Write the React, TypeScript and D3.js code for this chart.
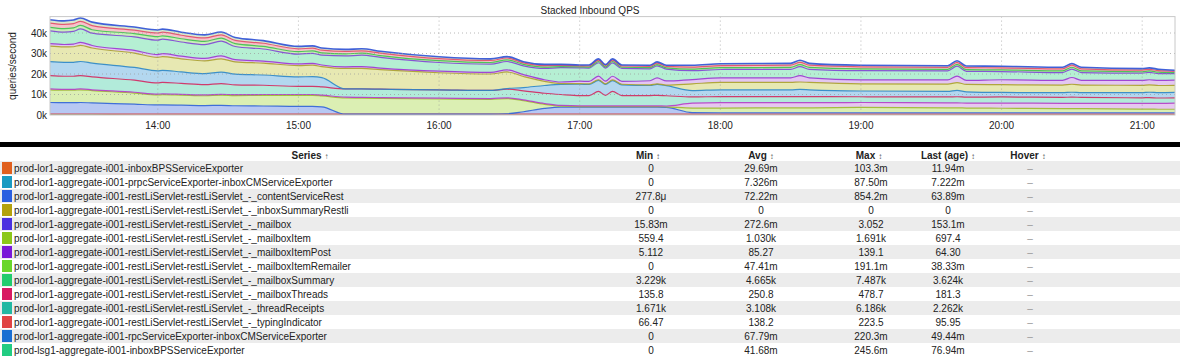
import React from "react";
import * as d3 from "d3";

// ---------- chart data (thousands of queries/second) ----------
const times = ["13:14","13:20","13:24","13:27","13:32","13:50","14:00","14:02","14:10","14:20","14:27","14:33","14:45","15:00","15:06","15:10","15:20","15:27","15:35","16:00","16:22","16:29","16:36","16:45","16:52","17:00","17:04","17:08","17:11","17:14","17:18","17:30","17:33","17:37","17:48","18:00","18:30","18:34","18:38","19:00","19:37","19:41","19:45","20:00","20:26","20:30","20:34","21:00","21:03","21:07","21:14"];

const base = [0.5,0.5,0.5,0.5,0.5,0.4,0.4,0.4,0.4,0.4,0.4,0.4,0.4,0.4,0.4,0.4,0.4,0.4,0.4,0.4,0.4,0.4,0.4,0.4,0.4,0.4,0.4,0.4,0.4,0.4,0.4,0.4,0.4,0.4,0.4,0.4,0.4,0.4,0.4,0.4,0.4,0.4,0.4,0.4,0.4,0.4,0.4,0.4,0.4,0.4,0.4];
const periwinkle = [5.6,5.5,5.5,5.6,5.4,4.9,4.5,4.5,4.4,4.2,4.3,4.1,4.0,3.8,3.8,3.6,0,0,0,0,0,0.2,1.2,2.8,3.4,3.4,3.4,3.4,3.4,3.4,3.4,3.4,3.4,3.3,0.8,0.7,0.7,0.7,0.7,0.7,0.7,0.7,0.7,0.7,0.7,0.7,0.7,0.7,0.7,0.7,0.7];
const lightGreen = [6.2,6.1,6.1,6.2,6.0,5.4,4.9,5.0,4.9,4.8,5.0,5.0,5.2,5.4,5.4,5.3,7.9,7.8,7.7,7.4,7.2,7.4,5.4,2.0,0.5,0.3,0.3,0.3,0.3,0.3,0.3,0.3,0.3,0.3,2.2,2.3,2.4,2.4,2.4,2.6,2.4,2.4,2.3,2.2,2.0,2.0,2.0,1.8,1.8,1.7,1.7];
const lavenderLow = [0.4,0.4,0.4,0.4,0.4,0.4,0.4,0.4,0.4,0.4,0.4,0.4,0.4,0.4,0.4,0.4,0.4,0.4,0.4,0.4,0.4,0.4,0.4,0.4,0.4,0.4,0.4,0.4,0.4,0.4,0.4,0.4,0.4,0.4,2.4,2.6,2.5,2.5,2.5,2.4,2.4,2.4,2.4,2.5,2.6,2.6,2.6,2.8,2.8,2.9,3.0];
const teal = [6.5,6.4,6.4,6.5,6.3,5.9,5.5,5.6,5.3,5.0,5.2,4.8,4.5,4.0,4.0,4.0,4.0,4.1,4.1,4.1,4.0,4.2,4.4,5.0,5.3,5.0,5.0,7.0,5.1,7.0,5.0,5.0,5.1,5.0,3.0,3.0,3.0,3.0,3.0,2.8,2.9,3.0,2.9,3.0,2.9,3.0,2.9,2.7,2.8,2.6,2.6];
const lightBlue = [6.8,6.8,6.8,6.9,6.7,6.2,5.8,5.9,5.6,5.4,5.6,5.2,5.0,4.6,4.7,4.5,0,0,0,0,0,0.3,1.6,3.8,4.9,5.5,5.4,5.4,5.3,5.3,5.2,4.9,5.3,4.9,3.1,3.3,3.3,3.5,3.3,2.8,2.7,3.1,2.6,2.2,2.3,2.4,2.3,2.5,2.6,2.6,2.6];
const yellow = [7.6,7.5,7.6,7.9,7.4,7.0,6.6,6.7,6.4,6.2,6.5,6.0,5.8,5.5,5.6,5.4,10.0,10.0,9.5,8.3,8.0,8.1,5.4,2.0,0.4,0.3,0.3,0.3,0.3,0.3,0.3,0.3,0.3,0.3,3.3,3.6,3.6,3.6,3.6,3.5,3.6,3.8,3.6,3.8,3.7,3.9,3.7,3.6,3.6,3.5,3.5];
const lavenderHigh = [1.2,1.2,1.3,1.4,1.2,1.3,1.4,1.4,1.3,1.2,1.4,1.1,1.0,0.8,0.9,0.8,0.8,0.9,0.8,0.8,0.8,1.0,0.9,0.8,0.8,1.2,1.2,1.8,1.3,1.8,1.4,2.0,2.9,2.0,2.1,2.2,2.2,3.1,2.2,1.9,2.0,3.2,2.0,2.4,2.3,3.3,2.3,2.4,2.5,2.5,2.5];
const mint = [6.2,6.0,6.2,6.6,6.0,6.6,7.0,7.1,6.9,6.7,7.2,6.4,5.9,4.8,4.9,4.8,5.3,5.6,5.2,4.2,4.0,4.1,4.3,5.5,7.0,6.5,6.5,6.5,6.4,6.5,6.3,5.8,5.9,5.8,4.3,4.1,4.2,4.4,4.2,4.5,4.4,4.8,4.4,4.0,3.8,4.1,3.8,3.5,3.6,3.3,3.2];
const topGreen = [1.7,1.7,1.7,1.7,1.7,1.6,1.7,1.6,1.6,1.6,1.5,1.4,1.3,1.2,1.2,1.1,1.0,1.0,0.9,0.9,0.8,0.8,0.7,0.7,0.5,0.5,0.5,0.6,0.6,0.7,0.6,0.6,0.6,0.6,0.8,0.9,0.9,1.0,0.9,0.9,0.8,0.9,0.8,0.8,0.8,0.9,0.8,0.7,0.7,0.7,0.5];
const pink = [2.1,2.1,2.1,2.0,2.0,1.7,1.8,1.8,1.7,1.7,1.6,1.6,1.5,1.4,1.3,1.3,1.2,1.1,1.2,1.0,1.0,0.9,0.7,0.7,0.6,0.5,0.5,0.7,0.6,0.7,0.6,0.6,0.7,0.7,1.0,1.0,1.1,1.1,1.1,1.0,0.9,1.0,1.0,1.0,1.0,1.0,1.0,0.8,0.8,0.7,0.6];
const topBlue = [1.7,1.7,1.7,1.6,1.7,1.5,1.5,1.5,1.5,1.5,1.4,1.4,1.3,1.2,1.1,1.1,1.0,1.0,0.9,0.9,0.8,0.7,0.6,0.6,0.5,0.4,0.5,0.6,0.5,0.6,0.5,0.6,0.6,0.6,0.9,0.9,0.9,1.0,0.9,0.8,0.8,0.8,0.8,0.8,0.8,0.8,0.8,0.7,0.7,0.7,0.5];

const layerKeys = ["base","periwinkle","lightGreen","lavenderLow","teal","lightBlue","yellow","lavenderHigh","mint","topGreen","pink","topBlue"];
const layerValues = [base,periwinkle,lightGreen,lavenderLow,teal,lightBlue,yellow,lavenderHigh,mint,topGreen,pink,topBlue];
const layerFills = ["#7fcf8a","#b7c8f3","#dbefb3","#e6c8f0","#b2ebda","#b3d7ef","#e7e8b2","#e3c7f1","#b5efd3","#c9efb9","#f6c3cb","#d9e9cf"];
const layerStrokes = ["#d83a3a","#2f62d8","#9cba2c","#b43cc6","#d0285e","#2a86c8","#aaa12a","#9a34d2","#7d44d4","#3cc24a","#e24a66","#2d50d6"];

const yTicks = [0, 10, 20, 30, 40];
const yLabel = "queries/second";
const chartTitle = "Stacked Inbound QPS";

// ---------- table data ----------
const seriesNames = [
  "prod-lor1-aggregate-i001-inboxBPSServiceExporter",
  "prod-lor1-aggregate-i001-prpcServiceExporter-inboxCMServiceExporter",
  "prod-lor1-aggregate-i001-restLiServlet-restLiServlet_-_contentServiceRest",
  "prod-lor1-aggregate-i001-restLiServlet-restLiServlet_-_inboxSummaryRestli",
  "prod-lor1-aggregate-i001-restLiServlet-restLiServlet_-_mailbox",
  "prod-lor1-aggregate-i001-restLiServlet-restLiServlet_-_mailboxItem",
  "prod-lor1-aggregate-i001-restLiServlet-restLiServlet_-_mailboxItemPost",
  "prod-lor1-aggregate-i001-restLiServlet-restLiServlet_-_mailboxItemRemailer",
  "prod-lor1-aggregate-i001-restLiServlet-restLiServlet_-_mailboxSummary",
  "prod-lor1-aggregate-i001-restLiServlet-restLiServlet_-_mailboxThreads",
  "prod-lor1-aggregate-i001-restLiServlet-restLiServlet_-_threadReceipts",
  "prod-lor1-aggregate-i001-restLiServlet-restLiServlet_-_typingIndicator",
  "prod-lor1-aggregate-i001-rpcServiceExporter-inboxCMServiceExporter",
  "prod-lsg1-aggregate-i001-inboxBPSServiceExporter",
];
const swatchColors = ["#e0601e","#1a9bc2","#2a5fe0","#b3a20e","#4a30e0","#8cc81a","#7a18d8","#6ad62a","#22cc6e","#d81a62","#22b8a2","#e04444","#1a6fd2","#22cc82"];
const minVals = ["0","0","277.8μ","0","15.83m","559.4","5.112","0","3.229k","135.8","1.671k","66.47","0","0"];
const avgVals = ["29.69m","7.326m","72.22m","0","272.6m","1.030k","85.27","47.41m","4.665k","250.8","3.108k","138.2","67.79m","41.68m"];
const maxVals = ["103.3m","87.50m","854.2m","0","3.052","1.691k","139.1","191.1m","7.487k","478.7","6.186k","223.5","220.3m","245.6m"];
const lastVals = ["11.94m","7.222m","63.89m","0","153.1m","697.4","64.30","38.33m","3.624k","181.3","2.262k","95.95","49.44m","76.94m"];
const headers = [
  { label: "Series", arrow: "↑", cx: 310 },
  { label: "Min", arrow: "↕", cx: 648 },
  { label: "Avg", arrow: "↕", cx: 761 },
  { label: "Max", arrow: "↕", cx: 869 },
  { label: "Last (age)", arrow: "↕", cx: 948 },
  { label: "Hover", arrow: "↕", cx: 1028 },
];

const FONT = "'Liberation Sans', Arial, Helvetica, sans-serif";

export default function App() {
  const W = 1180, H = 357;
  const left = 50, right = 1175, top = 16.6, bottom = 115;
  const parse = d3.timeParse("%H:%M");
  const rows = times.map((t, i) => {
    const r: any = { date: parse(t) };
    layerKeys.forEach((k, j) => (r[k] = layerValues[j][i]));
    return r;
  });
  const x = d3.scaleTime().domain([parse("13:14")!, parse("21:14")!]).range([left, right]);
  const y = d3.scaleLinear().domain([0, 48]).range([bottom, top]);
  const stacked = d3.stack().keys(layerKeys)(rows);
  const area = d3.area<any>().x((d) => x(d.data.date)).y0((d) => y(d[0])).y1((d) => y(d[1])).curve(d3.curveMonotoneX);
  const line = d3.line<any>().x((d) => x(d.data.date)).y((d) => y(d[1])).curve(d3.curveMonotoneX);
  const hours = x.ticks(d3.timeHour.every(1)!);
  const fmt = d3.timeFormat("%H:%M");

  const rowTop0 = 161, rowH = 14;
  const valueCols = [
    { vals: minVals, cx: 651 },
    { vals: avgVals, cx: 761 },
    { vals: maxVals, cx: 871 },
    { vals: lastVals, cx: 948 },
  ];

  return (
    <div style={{ position: "absolute", left: 0, top: 0 }}>
      <svg width={W} height={H} style={{ display: "block", fontFamily: FONT }}>
        <rect x={0} y={0} width={W} height={H} fill="#fff" />
        <text x={590} y={14} fontSize={10} textAnchor="middle" fill="#222">{chartTitle}</text>
        <defs>
          <clipPath id="plotclip">
            <rect x={left} y={top} width={right - left} height={bottom - top + 1} />
          </clipPath>
        </defs>
        <g clipPath="url(#plotclip)">
          {stacked.map((s, i) => (
            <path key={"a" + i} d={area(s as any) || ""} fill={layerFills[i]} stroke="none" />
          ))}
          {stacked.map((s, i) => (
            <path key={"l" + i} d={line(s as any) || ""} fill="none" stroke={layerStrokes[i]} strokeWidth={i === stacked.length - 1 ? 1.6 : 1.2} strokeOpacity={0.9} />
          ))}
          {yTicks.filter((t) => t > 0).map((t) => (
            <line key={"gy" + t} x1={left} x2={right} y1={y(t)} y2={y(t)} stroke="#9a9a9a" strokeOpacity={0.7} strokeDasharray="1,3" />
          ))}
          {hours.map((h, i) => (
            <line key={"gx" + i} x1={x(h)} x2={x(h)} y1={top} y2={bottom} stroke="#9a9a9a" strokeOpacity={0.7} strokeDasharray="1,3" />
          ))}
        </g>
        <rect x={left} y={top} width={right - left} height={bottom - top} fill="none" stroke="#c8c8c8" />
        {yTicks.map((t) => (
          <text key={"yt" + t} x={47} y={y(t) + 3.5} fontSize={10} textAnchor="end" fill="#222">{t + "k"}</text>
        ))}
        {hours.map((h, i) => (
          <text key={"xt" + i} x={x(h)} y={128.5} fontSize={10} textAnchor="middle" fill="#222">{fmt(h)}</text>
        ))}
        <text transform="translate(15.5,66) rotate(-90)" fontSize={10} textAnchor="middle" fill="#222">{yLabel}</text>

        <rect x={0} y={142} width={W} height={5} fill="#000" />

        {headers.map((h, i) => (
          <text key={"h" + i} x={h.cx} y={158.5} fontSize={10} fontWeight="bold" textAnchor="middle" fill="#222">
            {h.label}
            <tspan fontSize={8} fontWeight="normal" fill="#555" dx={3}>{h.arrow}</tspan>
          </text>
        ))}

        {seriesNames.map((name, i) => {
          const ry = rowTop0 + i * rowH;
          return (
            <g key={"r" + i}>
              <rect x={0} y={ry} width={W} height={rowH} fill={i % 2 === 0 ? "#ececec" : "#ffffff"} />
              <rect x={2} y={ry + 1} width={10} height={12} fill={swatchColors[i]} />
              <text x={14} y={ry + 10.5} fontSize={10} fill="#222">{name}</text>
              {valueCols.map((c, j) => (
                <text key={j} x={c.cx} y={ry + 10.5} fontSize={10} textAnchor="middle" fill="#222">{c.vals[i]}</text>
              ))}
              <text x={1030} y={ry + 10.5} fontSize={10} textAnchor="middle" fill="#999">–</text>
            </g>
          );
        })}
      </svg>
    </div>
  );
}
